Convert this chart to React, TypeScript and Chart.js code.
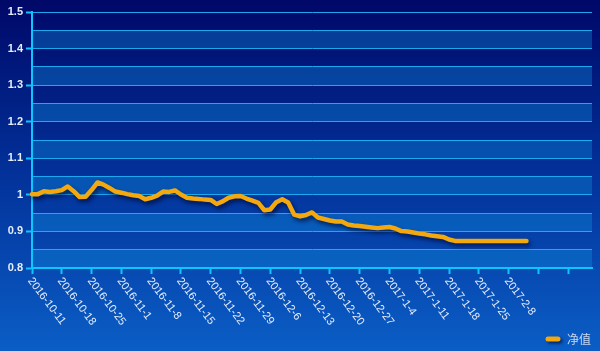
import React, { useEffect, useRef } from 'react';
import { Chart, registerables } from 'chart.js';

Chart.register(...registerables);

const tradeDates: string[] = [
  '2016-10-11', '2016-10-12', '2016-10-13', '2016-10-14', '2016-10-17',
  '2016-10-18', '2016-10-19', '2016-10-20', '2016-10-21', '2016-10-24',
  '2016-10-25', '2016-10-26', '2016-10-27', '2016-10-28', '2016-10-31',
  '2016-11-1', '2016-11-2', '2016-11-3', '2016-11-4', '2016-11-7',
  '2016-11-8', '2016-11-9', '2016-11-10', '2016-11-11', '2016-11-14',
  '2016-11-15', '2016-11-16', '2016-11-17', '2016-11-18', '2016-11-21',
  '2016-11-22', '2016-11-23', '2016-11-24', '2016-11-25', '2016-11-28',
  '2016-11-29', '2016-11-30', '2016-12-1', '2016-12-2', '2016-12-5',
  '2016-12-6', '2016-12-7', '2016-12-8', '2016-12-9', '2016-12-12',
  '2016-12-13', '2016-12-14', '2016-12-15', '2016-12-16', '2016-12-19',
  '2016-12-20', '2016-12-21', '2016-12-22', '2016-12-23', '2016-12-26',
  '2016-12-27', '2016-12-28', '2016-12-29', '2016-12-30', '2017-1-3',
  '2017-1-4', '2017-1-5', '2017-1-6', '2017-1-9', '2017-1-10',
  '2017-1-11', '2017-1-12', '2017-1-13', '2017-1-16', '2017-1-17',
  '2017-1-18', '2017-1-19', '2017-1-20', '2017-1-23', '2017-1-24',
  '2017-1-25', '2017-1-26', '2017-2-3', '2017-2-6', '2017-2-7',
  '2017-2-8', '2017-2-9', '2017-2-10', '2017-2-13',
];
const emptySlots: string[] = ['', '', '', '', '', '', '', '', '', '', ''];
const categories: string[] = [...tradeDates, ...emptySlots];

const netValue: number[] = [
  1.002, 1.002, 1.010, 1.008, 1.010, 1.013, 1.023, 1.010, 0.994, 0.995,
  1.013, 1.034, 1.028, 1.019, 1.009, 1.006, 1.002, 0.999, 0.997, 0.988,
  0.992, 0.998, 1.009, 1.008, 1.012, 1.001, 0.992, 0.990, 0.989, 0.987,
  0.986, 0.975, 0.982, 0.992, 0.996, 0.997, 0.990, 0.984, 0.978, 0.958,
  0.960, 0.980, 0.988, 0.979, 0.946, 0.941, 0.945, 0.952, 0.938, 0.934,
  0.930, 0.927, 0.927, 0.919, 0.916, 0.915, 0.913, 0.911, 0.909, 0.911,
  0.912, 0.908, 0.901, 0.900, 0.897, 0.894, 0.892, 0.889, 0.887, 0.885,
  0.878, 0.874, 0.874, 0.874, 0.874, 0.874, 0.874, 0.874, 0.874, 0.874,
  0.874, 0.874, 0.874, 0.874,
];

const seriesName = '净值';
const yMin = 0.8;
const yMax = 1.5;
const yStep = 0.05;
const labelEvery = 5;

const AXIS = '#0cc6ff';
const GRID = 'rgba(30,175,245,0.95)';
const LINE = '#f3a80d';
const TEXT = '#e6eefc';

const isMajor = (v: number) => Math.round(v * 100) % 10 === 0;

const bgPlugin = {
  id: 'bgPlugin',
  beforeDraw(chart: any) {
    const { ctx, width, height, chartArea, scales } = chart;
    ctx.save();
    const g = ctx.createLinearGradient(0, 0, 0, height);
    g.addColorStop(0, '#000868');
    g.addColorStop(0.5, '#02329a');
    g.addColorStop(1, '#0a5ec6');
    ctx.fillStyle = g;
    ctx.fillRect(0, 0, width, height);
    const y = scales.y;
    const n = Math.round((yMax - yMin) / yStep);
    ctx.fillStyle = 'rgba(15,150,225,0.34)';
    for (let k = 0; k < n; k++) {
      if (k % 2 === 1) {
        const top = y.getPixelForValue(yMax - k * yStep);
        const bot = y.getPixelForValue(yMax - (k + 1) * yStep);
        ctx.fillRect(chartArea.left, top, chartArea.right - chartArea.left, bot - top);
      }
    }
    ctx.restore();
  },
};

const shadowPlugin = {
  id: 'shadowPlugin',
  beforeDatasetDraw(chart: any) {
    const ctx = chart.ctx;
    ctx.save();
    ctx.shadowColor = 'rgba(0,0,40,0.65)';
    ctx.shadowBlur = 4;
    ctx.shadowOffsetX = 2;
    ctx.shadowOffsetY = 3;
  },
  afterDatasetDraw(chart: any) {
    chart.ctx.restore();
  },
};

const labelsPlugin = {
  id: 'labelsPlugin',
  afterDraw(chart: any) {
    const { ctx, scales, chartArea } = chart;
    const x = scales.x;
    ctx.save();
    ctx.fillStyle = TEXT;
    ctx.font = '11px "Liberation Sans", Arial, sans-serif';
    ctx.textAlign = 'left';
    ctx.textBaseline = 'middle';
    categories.forEach((lab, i) => {
      if (i % labelEvery !== 0 || !lab) return;
      const px = x.getPixelForValue(i);
      ctx.save();
      ctx.translate(px - 2, chartArea.bottom + 11);
      ctx.rotate((53 * Math.PI) / 180);
      ctx.fillText(lab, 0, 0);
      ctx.restore();
    });
    // legend
    const lx = 546;
    const ly = 339;
    ctx.save();
    ctx.shadowColor = 'rgba(0,0,40,0.6)';
    ctx.shadowBlur = 3;
    ctx.shadowOffsetX = 2;
    ctx.shadowOffsetY = 2;
    ctx.strokeStyle = LINE;
    ctx.lineWidth = 5;
    ctx.lineCap = 'round';
    ctx.beginPath();
    ctx.moveTo(lx + 2, ly);
    ctx.lineTo(lx + 12, ly);
    ctx.stroke();
    ctx.restore();
    ctx.fillStyle = '#c9d8f0';
    ctx.font = '12px "Noto Sans CJK SC", sans-serif';
    ctx.textBaseline = 'middle';
    ctx.fillText(seriesName, lx + 21, ly);
    ctx.restore();
  },
};

export default function App() {
  const ref = useRef<HTMLCanvasElement | null>(null);
  useEffect(() => {
    if (!ref.current) return;
    const chart = new Chart(ref.current, {
      type: 'line',
      data: {
        labels: categories,
        datasets: [
          {
            label: seriesName,
            data: netValue,
            borderColor: LINE,
            backgroundColor: LINE,
            borderWidth: 4.5,
            pointRadius: 0,
            tension: 0,
            borderJoinStyle: 'round',
            borderCapStyle: 'round',
            fill: false,
          },
        ],
      },
      options: {
        animation: false,
        responsive: false,
        devicePixelRatio: 1,
        layout: { padding: { top: 12, right: 8, left: 0, bottom: 0 } },
        plugins: { legend: { display: false }, tooltip: { enabled: false } },
        scales: {
          x: {
            type: 'category',
            offset: false,
            ticks: { display: false, autoSkip: false },
            grid: {
              drawOnChartArea: false,
              drawTicks: true,
              tickLength: 6,
              tickWidth: 2,
              tickColor: (c: any) => (c.index % labelEvery === 0 ? AXIS : 'transparent'),
            },
            border: { color: AXIS, width: 2 },
            afterFit: (s: any) => {
              s.height = 83;
            },
          },
          y: {
            min: yMin,
            max: yMax,
            ticks: {
              stepSize: yStep,
              autoSkip: false,
              padding: 3,
              color: TEXT,
              font: { size: 11, weight: 'bold', family: '"Liberation Sans", Arial, sans-serif' },
              callback: (v: any) => (isMajor(Number(v)) ? String(Math.round(Number(v) * 10) / 10) : ''),
            },
            grid: {
              color: GRID,
              lineWidth: 1,
              tickLength: 6,
              tickWidth: 2,
              tickColor: (c: any) => (c.tick && isMajor(c.tick.value) ? AXIS : 'transparent'),
            },
            border: { color: AXIS, width: 2 },
            afterFit: (s: any) => {
              s.width = 32;
            },
          },
        },
      },
      plugins: [bgPlugin, shadowPlugin, labelsPlugin],
    } as any);
    return () => chart.destroy();
  }, []);
  return (
    <div style={{ position: 'fixed', left: 0, top: 0, width: 600, height: 351 }}>
      <canvas ref={ref} width={600} height={351} style={{ display: 'block', width: 600, height: 351 }} />
    </div>
  );
}
